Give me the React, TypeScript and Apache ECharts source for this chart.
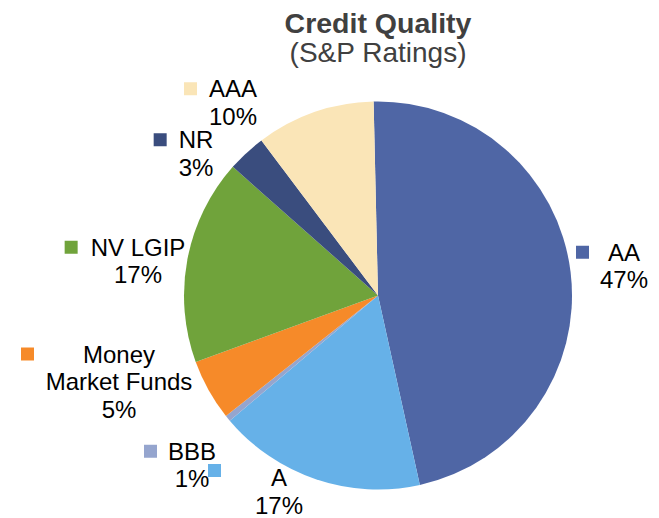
import React, { useEffect, useRef } from "react";
import * as echarts from "echarts";

// Data (clockwise from the top)
const categories = ["AA", "A", "BBB", "Money\nMarket Funds", "NV LGIP", "NR", "AAA"];
const values = [46.9, 17.3, 0.5, 5.1, 17.1, 3.2, 9.9];
const colors = ["#4F66A5", "#66B1E8", "#95A5CE", "#F68A29", "#70A33B", "#3A4D7E", "#FAE5B7"];
const titleText = "Credit Quality";
const subtitleText = "(S&P Ratings)";

// Label layout (name-column centre x, block centre y) and marker gap
const labelAnchors: [number, number][] = [
  [624, 266],
  [279, 491.5],
  [192, 465],
  [119, 381.5],
  [138, 261],
  [196, 153.5],
  [233, 102.5],
];
const markerGaps = [19, 50, 11, 49, 13, 12, 12];
const MARKER = 13;
const LINE_H = 27.5;
const FONT = "Liberation Sans";

export default function App() {
  const ref = useRef<HTMLDivElement>(null);

  useEffect(() => {
    if (!ref.current) return;
    const chart = echarts.init(ref.current, undefined, { renderer: "svg" });

    const rich: Record<string, any> = {
      t: { fontSize: 24, lineHeight: LINE_H, color: "#000", fontFamily: FONT },
    };
    categories.forEach((_, i) => {
      rich["m" + i] = {
        width: MARKER,
        height: MARKER,
        backgroundColor: colors[i],
        lineHeight: LINE_H,
        verticalAlign: i === 1 ? "top" : "middle",
      };
      rich["g" + i] = { width: markerGaps[i], height: MARKER, lineHeight: LINE_H };
      rich["p" + i] = { width: MARKER + markerGaps[i], height: MARKER, lineHeight: LINE_H };
    });

    chart.setOption({
      animation: false,
      backgroundColor: "#ffffff",
      graphic: [
        {
          type: "text",
          x: 378,
          y: 23,
          style: {
            text: titleText,
            fill: "#404040",
            fontFamily: FONT,
            fontSize: 28.5,
            fontWeight: "bold",
            align: "center",
            verticalAlign: "middle",
          },
        },
        {
          type: "text",
          x: 378,
          y: 52,
          style: {
            text: subtitleText,
            fill: "#404040",
            fontFamily: FONT,
            fontSize: 28,
            align: "center",
            verticalAlign: "middle",
          },
        },
      ],
      series: [
        {
          type: "pie",
          center: [378, 295.5],
          radius: 194,
          startAngle: 91.3,
          clockwise: true,
          percentPrecision: 0,
          avoidLabelOverlap: false,
          itemStyle: { borderWidth: 0 },
          emphasis: { disabled: true },
          labelLine: { show: false },
          label: {
            show: true,
            position: "outside",
            fontSize: 24,
            lineHeight: LINE_H,
            color: "#000",
            fontFamily: FONT,
            rich,
            formatter: (p: any) => {
              const i = p.dataIndex;
              const lines = String(p.name).split("\n");
              const first = `{m${i}|}{g${i}|}{t|${lines[0]}}{p${i}|}`;
              const rest = lines.slice(1).map((l) => `{t|${l}}`);
              return [first, ...rest, `{t|${Math.round(p.percent)}%}`].join("\n");
            },
          },
          labelLayout: (params: any) => {
            const a = labelAnchors[params.dataIndex];
            return { x: a[0], y: a[1], align: "center", verticalAlign: "middle" };
          },
          data: categories.map((name, i) => ({
            name,
            value: values[i],
            itemStyle: { color: colors[i] },
          })),
        },
      ],
    });

    return () => chart.dispose();
  }, []);

  return (
    <div
      ref={ref}
      style={{ position: "fixed", left: 0, top: 0, width: 659, height: 518, background: "#fff" }}
    />
  );
}
